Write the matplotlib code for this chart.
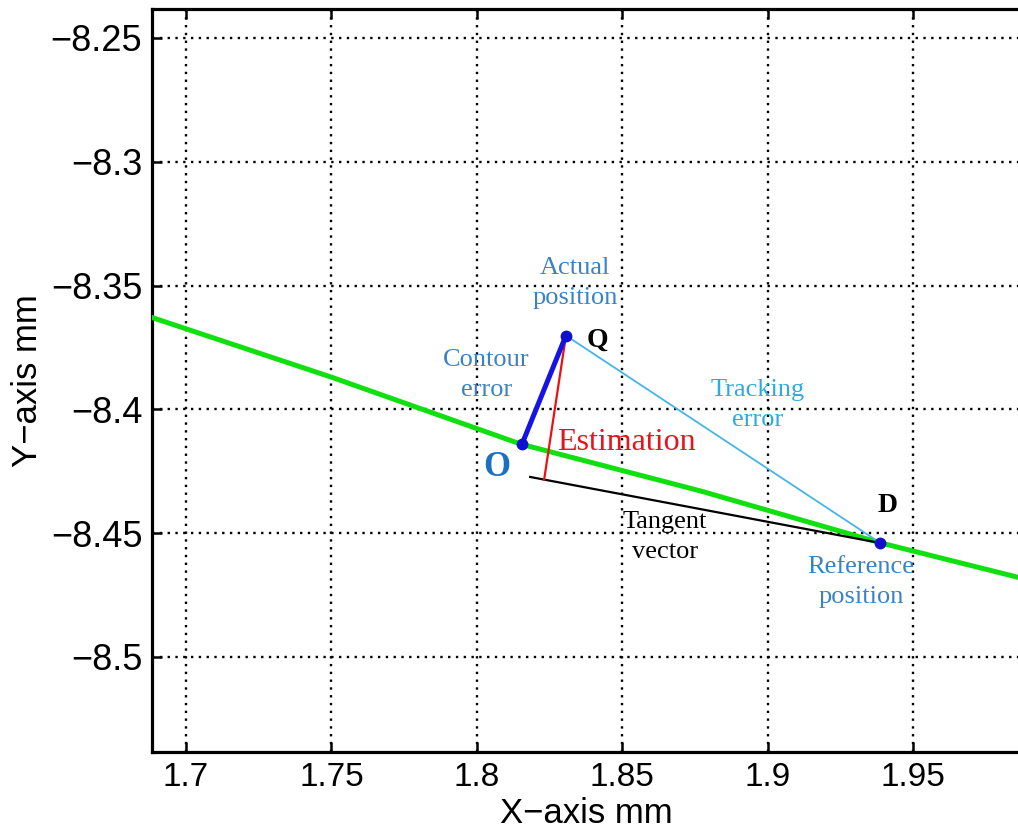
import matplotlib
matplotlib.use("Agg")
import matplotlib.pyplot as plt

# reference contour (green path)
path_x = [1.686, 1.750, 1.815, 1.877, 1.939, 1.990]
path_y = [-8.362, -8.387, -8.414, -8.433, -8.454, -8.469]

# key points: O (contour foot), Q (actual position), D (reference position)
O_pt = (1.8155, -8.4140)
Q_pt = (1.8306, -8.3702)
D_pt = (1.9387, -8.4540)

# tangent vector start and estimation foot on it
tangent_start = (1.8183, -8.4273)
estim_foot = (1.8231, -8.4284)

x_ticks = [1.7, 1.75, 1.8, 1.85, 1.9, 1.95]
y_ticks = [-8.25, -8.3, -8.35, -8.4, -8.45, -8.5]
x_ticklabels = ["1.7", "1.75", "1.8", "1.85", "1.9", "1.95"]
y_ticklabels = ["\u22128.25", "\u22128.3", "\u22128.35", "\u22128.4", "\u22128.45", "\u22128.5"]

sans = "Liberation Sans"
serif = "Liberation Serif"
note_blue = "#3b82c4"
track_cyan = "#2aace0"

fig = plt.figure(figsize=(10.18, 8.33), dpi=100)
ax = fig.add_axes([0.1493, 0.0972, 0.853, 0.892])

ax.set_xlim(1.6883, 1.9868)
ax.set_ylim(-8.5384, -8.2383)

# grid like MATLAB's dotted one
ax.grid(True, color="k", linestyle=(0, (1, 2.3)), linewidth=1.7)
ax.set_axisbelow(True)

ax.plot(path_x, path_y, color="#10e010", linewidth=3.6, solid_capstyle="butt", zorder=3)

# tangent vector at D
ax.plot([tangent_start[0], D_pt[0]], [tangent_start[1], D_pt[1]], color="k", linewidth=1.6, zorder=4)
# tracking error Q -> D
ax.plot([Q_pt[0], D_pt[0]], [Q_pt[1], D_pt[1]], color="#45b5e6", linewidth=1.3, zorder=4)
# estimated contour error
ax.plot([Q_pt[0], estim_foot[0]], [Q_pt[1], estim_foot[1]], color="#ee1010", linewidth=1.6, zorder=5)
# actual contour error O -> Q
ax.plot([O_pt[0], Q_pt[0]], [O_pt[1], Q_pt[1]], color="#1414e6", linewidth=3.6, zorder=6)

for p in (O_pt, Q_pt, D_pt):
    ax.plot(p[0], p[1], "o", color="#1010d0", markersize=7.5, zorder=7)

txt = dict(family=serif, fontsize=19, ha="center", va="center", linespacing=1.45)
ax.text(1.8338, -8.3490, "Actual\nposition", color=note_blue, **txt)
ax.text(1.8032, -8.3861, "Contour\nerror", color=note_blue, **txt)
ax.text(1.8964, -8.3982, "Tracking\nerror", color=track_cyan, **txt)
ax.text(1.8647, -8.4515, "Tangent\nvector", color="k", **txt)
ax.text(1.9321, -8.4697, "Reference\nposition", color=note_blue, **txt)
ax.text(1.8276, -8.4132, "Estimation", color="#e8141c", family=serif,
        fontsize=23, ha="left", va="center")
ax.text(1.8413, -8.3720, "Q", color="k", family=serif, fontsize=20,
        fontweight="bold", ha="center", va="center")
ax.text(1.9411, -8.4390, "D", color="k", family=serif, fontsize=20,
        fontweight="bold", ha="center", va="center")
ax.text(1.8069, -8.4233, "O", color="#1a72bf", family=serif, fontsize=25,
        fontweight="bold", ha="center", va="center")

ax.set_xticks(x_ticks)
ax.set_xticklabels(x_ticklabels, family=sans, fontsize=24)
ax.set_yticks(y_ticks)
ax.set_yticklabels(y_ticklabels, family=sans, fontsize=26)
ax.tick_params(direction="in", length=7, width=1.8, top=True, right=False, pad=7)

ax.set_xlabel("X\u2212axis mm", family=sans, fontsize=25, labelpad=3)
ax.set_ylabel("Y\u2212axis mm", family=sans, fontsize=25, labelpad=5)

for side in ("left", "bottom", "top"):
    ax.spines[side].set_linewidth(2.3)
ax.spines["right"].set_visible(False)

fig.savefig("out.png", dpi=100)
